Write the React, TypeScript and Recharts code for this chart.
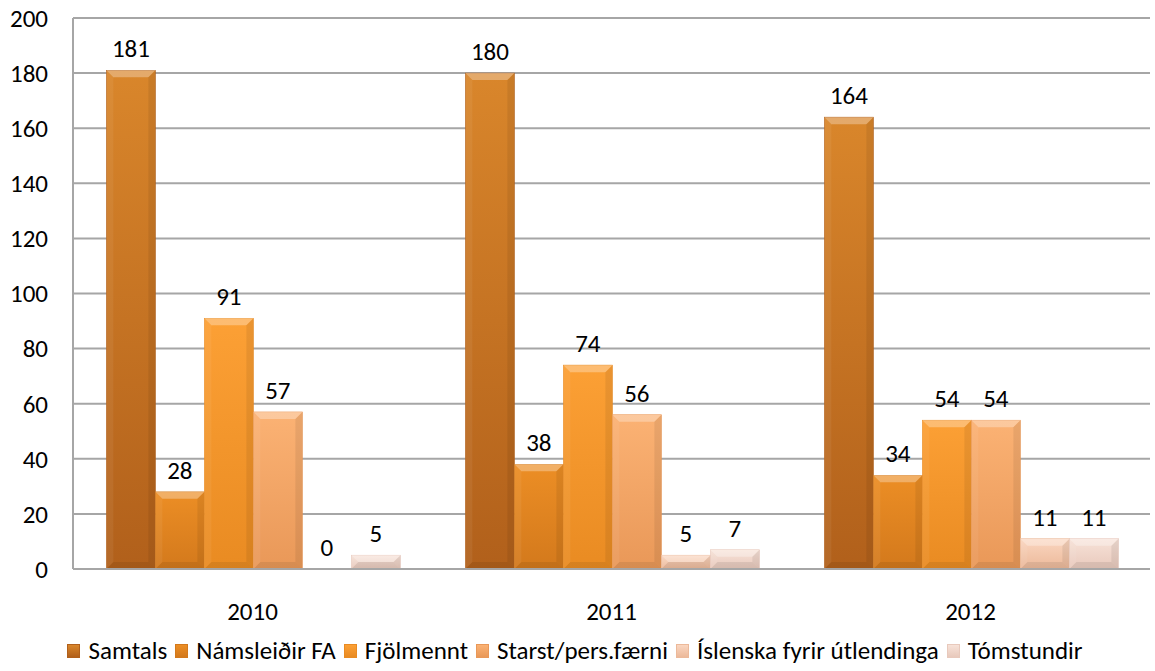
import React from 'react';
import { BarChart, Bar, XAxis, YAxis, CartesianGrid, Legend, LabelList } from 'recharts';

const years = ['2010', '2011', '2012'];
const seriesNames = ['Samtals', 'Námsleiðir FA', 'Fjölmennt', 'Starst/pers.færni', 'Íslenska fyrir útlendinga', 'Tómstundir'];
const samtals = [181, 180, 164];
const namsleidir = [28, 38, 34];
const fjolmennt = [91, 74, 54];
const starst = [57, 56, 54];
const islenska = [0, 5, 11];
const tomstundir = [5, 7, 11];
const yTicks = [0, 20, 40, 60, 80, 100, 120, 140, 160, 180, 200];

const seriesValues = [samtals, namsleidir, fjolmennt, starst, islenska, tomstundir];
const keys = ['s0', 's1', 's2', 's3', 's4', 's5'];

// top / bottom colour of each bar body
const COLORS = [
  ['#d9862b', '#b1601b'],
  ['#ec8e25', '#d3791c'],
  ['#fca035', '#e98b22'],
  ['#fbb274', '#e99858'],
  ['#fad6c0', '#ecb99a'],
  ['#f7e2d8', '#e8c9bc'],
];

const data = years.map((year, i) => {
  const row: Record<string, string | number> = { year };
  keys.forEach((k, j) => {
    row[k] = seriesValues[j][i];
  });
  return row;
});

const FONT = "Carlito, Calibri, Lato, sans-serif";

const BevelBar = (props: any) => {
  const { x, y, width: w, height: h, series } = props;
  if (!h || h <= 0) return null;
  const b = Math.min(7, h / 2, w / 2);
  return (
    <g>
      <rect x={x} y={y} width={w} height={h} fill={`url(#grad${series})`} stroke={COLORS[series][1]} strokeWidth={0.6} />
      <polygon points={`${x},${y} ${x + w},${y} ${x + w - b},${y + b} ${x + b},${y + b}`} fill="#ffffff" opacity={0.3} />
      <polygon points={`${x},${y} ${x + b},${y + b} ${x + b},${y + h - b} ${x},${y + h}`} fill="#ffffff" opacity={0.06} />
      <polygon points={`${x + w},${y} ${x + w - b},${y + b} ${x + w - b},${y + h - b} ${x + w},${y + h}`} fill="#000000" opacity={0.07} />
      <polygon points={`${x},${y + h} ${x + b},${y + h - b} ${x + w - b},${y + h - b} ${x + w},${y + h}`} fill="#000000" opacity={0.08} />
    </g>
  );
};

const LegendContent = () => (
  <div style={{ display: 'flex', justifyContent: 'center', alignItems: 'center', fontSize: 25, fontFamily: FONT, color: '#000', whiteSpace: 'nowrap' }}>
    {seriesNames.map((name, i) => (
      <div key={name} style={{ display: 'flex', alignItems: 'center', marginRight: i < seriesNames.length - 1 ? 8 : 0 }}>
        <span
          style={{
            display: 'inline-block',
            width: 13,
            height: 14,
            marginRight: 8,
            boxSizing: 'border-box',
            border: `1px solid ${COLORS[i][1]}`,
            background: `linear-gradient(${COLORS[i][0]}, ${COLORS[i][1]})`,
          }}
        />
        <span>{name}</span>
      </div>
    ))}
  </div>
);

const App = () => {
  return (
    <div style={{ position: 'absolute', left: 0, top: 0, width: 1155, height: 671, background: '#fff', fontFamily: FONT }}>
      <BarChart
        width={1155}
        height={671}
        data={data}
        margin={{ top: 18, right: 5, left: 0, bottom: 4 }}
        barCategoryGap="9.3%"
        barGap={0}
      >
        <defs>
          {COLORS.map((c, i) => (
            <linearGradient key={i} id={`grad${i}`} x1="0" y1="0" x2="0" y2="1">
              <stop offset="0%" stopColor={c[0]} />
              <stop offset="100%" stopColor={c[1]} />
            </linearGradient>
          ))}
        </defs>
        <CartesianGrid vertical={false} stroke="#a6a6a6" strokeWidth={2} />
        <XAxis
          dataKey="year"
          axisLine={{ stroke: '#a6a6a6', strokeWidth: 2 }}
          tickLine={false}
          tickSize={0}
          tickMargin={33}
          height={66}
          tick={{ fontSize: 25, fill: '#000', fontFamily: FONT }}
        />
        <YAxis
          domain={[0, 200]}
          ticks={yTicks}
          interval={0}
          axisLine={{ stroke: '#a6a6a6', strokeWidth: 2 }}
          tickLine={false}
          tickSize={0}
          tickMargin={25}
          width={73}
          tick={{ fontSize: 25, fill: '#000', fontFamily: FONT }}
        />
        <Legend verticalAlign="bottom" height={32} content={<LegendContent />} />
        {keys.map((k, i) => (
          <Bar
            key={k}
            dataKey={k}
            name={seriesNames[i]}
            fill={COLORS[i][0]}
            isAnimationActive={false}
            shape={(p: any) => <BevelBar {...p} series={i} />}
          >
            <LabelList dataKey={k} position="top" offset={13} style={{ fontSize: 25, fill: '#000', fontFamily: FONT }} />
          </Bar>
        ))}
      </BarChart>
    </div>
  );
};

export default App;
